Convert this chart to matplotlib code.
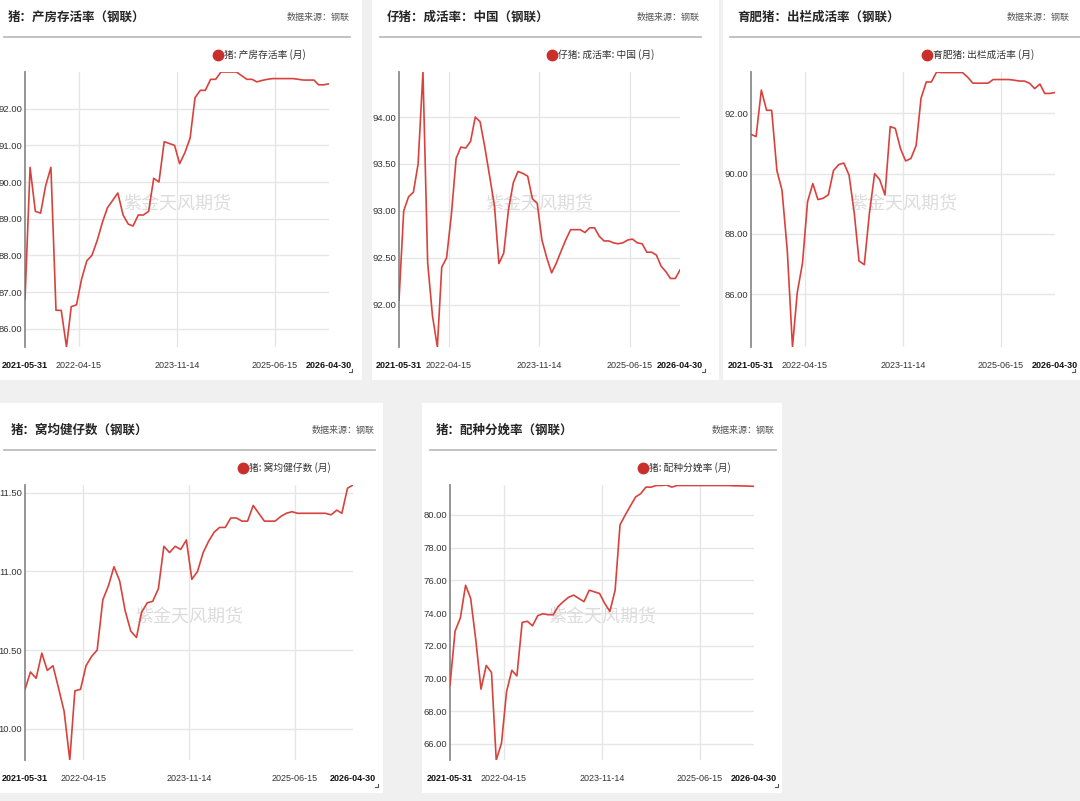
import matplotlib
matplotlib.use("Agg")
import matplotlib.pyplot as plt
from matplotlib.patches import Rectangle
from matplotlib.lines import Line2D
from matplotlib import font_manager
import pandas as pd

W, H = 1080, 801

# Monthly dates, 2021-05-31 .. 2026-04-30
dates = pd.date_range("2021-05-01", periods=60, freq="MS") + pd.offsets.MonthEnd(0)
tick_labels = ["2021-05-31", "2022-04-15", "2023-11-14", "2025-06-15", "2026-04-30"]
tick_dates = pd.to_datetime(tick_labels)

# 猪：产房存活率
farrowing_survival = [
    86.8, 90.4, 89.2, 89.15, 89.9, 90.4, 86.5, 86.5, 85.5, 86.6,
    86.65, 87.35, 87.85, 88.0, 88.4, 88.9, 89.3, 89.5, 89.7, 89.1,
    88.85, 88.8, 89.1, 89.1, 89.2, 90.1, 90.0, 91.1, 91.05, 91.0,
    90.5, 90.8, 91.2, 92.3, 92.5, 92.5, 92.8, 92.8, 93.0, 93.0,
    93.0, 93.0, 92.9, 92.8, 92.8, 92.73, 92.77, 92.8, 92.82, 92.82,
    92.82, 92.82, 92.82, 92.8, 92.78, 92.78, 92.78, 92.65, 92.65, 92.68]

# 仔猪：成活率：中国
piglet_survival = [
    92.05, 93.0, 93.15, 93.2, 93.5, 94.48, 92.45, 91.88, 91.55, 92.4,
    92.5, 92.95, 93.56, 93.68, 93.67, 93.74, 94.0, 93.95, 93.68, 93.37,
    93.05, 92.44, 92.55, 93.01, 93.3, 93.42, 93.4, 93.37, 93.13, 93.08,
    92.69, 92.5, 92.34, 92.44, 92.57, 92.69, 92.8, 92.8, 92.8, 92.77,
    92.82, 92.82, 92.73, 92.68, 92.68, 92.66, 92.65, 92.66, 92.69, 92.7,
    92.66, 92.65, 92.56, 92.56, 92.53, 92.41, 92.35, 92.28, 92.28, 92.37]

# 育肥猪：出栏成活率
finishing_survival = [
    91.3, 91.23, 92.77, 92.1, 92.1, 90.1, 89.45, 87.47, 84.25, 86.05,
    87.03, 89.07, 89.67, 89.14, 89.18, 89.3, 90.1, 90.3, 90.35, 89.95,
    88.68, 87.1, 86.98, 88.68, 90.0, 89.8, 89.29, 91.56, 91.5, 90.82,
    90.42, 90.5, 90.93, 92.5, 93.04, 93.04, 93.37, 93.35, 93.35, 93.35,
    93.35, 93.35, 93.2, 93.0, 93.0, 93.0, 93.0, 93.12, 93.12, 93.12,
    93.12, 93.1, 93.07, 93.07, 93.0, 92.82, 92.97, 92.66, 92.66, 92.69]

# 猪：窝均健仔数
healthy_per_litter = [
    10.25, 10.36, 10.32, 10.48, 10.37, 10.40, 10.26, 10.11, 9.80, 10.24,
    10.25, 10.40, 10.46, 10.50, 10.82, 10.91, 11.03, 10.94, 10.75, 10.62,
    10.58, 10.74, 10.80, 10.81, 10.89, 11.16, 11.12, 11.16, 11.14, 11.20,
    10.95, 11.0, 11.12, 11.19, 11.25, 11.28, 11.28, 11.34, 11.34, 11.32,
    11.32, 11.42, 11.37, 11.32, 11.32, 11.32, 11.35, 11.37, 11.38, 11.37,
    11.37, 11.37, 11.37, 11.37, 11.37, 11.36, 11.39, 11.37, 11.53, 11.55]

# 猪：配种分娩率
farrowing_rate = [
    69.6, 72.9, 73.7, 75.7, 74.9, 72.3, 69.35, 70.8, 70.37, 65.02,
    66.05, 69.2, 70.5, 70.16, 73.43, 73.5, 73.22, 73.84, 73.96, 73.9,
    73.9, 74.4, 74.7, 74.96, 75.1, 74.9, 74.7, 75.4, 75.3, 75.2,
    74.6, 74.1, 75.4, 79.4, 80.0, 80.55, 81.1, 81.3, 81.7, 81.7,
    81.8, 81.8, 81.83, 81.7, 81.8, 81.8, 81.8, 81.8, 81.8, 81.8,
    81.8, 81.8, 81.8, 81.8, 81.8, 81.78, 81.78, 81.77, 81.76, 81.75]

titles = ["猪：产房存活率（钢联）", "仔猪：成活率：中国（钢联）", "育肥猪：出栏成活率（钢联）",
          "猪：窝均健仔数（钢联）", "猪：配种分娩率（钢联）"]
legends = ["猪: 产房存活率 (月)", "仔猪: 成活率: 中国 (月)", "育肥猪: 出栏成活率 (月)",
           "猪: 窝均健仔数 (月)", "猪: 配种分娩率 (月)"]
yticks = [[86, 87, 88, 89, 90, 91, 92],
          [92.0, 92.5, 93.0, 93.5, 94.0],
          [86, 88, 90, 92],
          [10.0, 10.5, 11.0, 11.5],
          [66, 68, 70, 72, 74, 76, 78, 80]]
series = [farrowing_survival, piglet_survival, finishing_survival,
          healthy_per_litter, farrowing_rate]

# Layout in pixels: panel box, axes box, title x, source right x, separator, legend marker x
layout = [
    dict(bg=(0, 0, 362, 380), ax=(25, 72, 329, 347), tx=8, sx=350, sep=(4, 350), lx=218, corner=(352, 372)),
    dict(bg=(372, 0, 719, 380), ax=(399, 72, 680, 347), tx=387, sx=700, sep=(380, 701), lx=552, corner=(705, 372)),
    dict(bg=(723, 0, 1080, 380), ax=(751, 72, 1055, 347), tx=737, sx=1070, sep=(730, 1080), lx=927, corner=(1075, 372)),
    dict(bg=(0, 403, 383, 793), ax=(25, 485, 353, 760), tx=11, sx=375, sep=(4, 375), lx=243, corner=(378, 787)),
    dict(bg=(422, 403, 782, 793), ax=(450, 485, 754, 760), tx=436, sx=775, sep=(430, 776), lx=643, corner=(778, 787)),
]

CJK = ["Noto Sans CJK SC", "DejaVu Sans"]
NUM_FONT = "Liberation Sans"
X_SIZE, Y_SIZE = 6.5, 6.8

LINE_RED = "#d9423c"
DOT_RED = "#c9302c"

fig = plt.figure(figsize=(W / 100, H / 100), dpi=100, facecolor="#f0f0f0")


def fx(x):
    return x / W


def fy(y):
    return 1 - y / H


for cfg, title, leg, vals, yt in zip(layout, titles, legends, series, yticks):
    bx0, by0, bx1, by1 = cfg["bg"]
    fig.add_artist(Rectangle((fx(bx0), fy(by1)), (bx1 - bx0) / W, (by1 - by0) / H,
                             transform=fig.transFigure, facecolor="white",
                             edgecolor="none", zorder=0))
    top = by0 if by0 == 0 else by0 + 10
    # header
    fig.text(fx(cfg["tx"]), fy(top + 17), title, family=CJK, fontsize=9,
             fontweight="bold", color="#262626", va="center", ha="left")
    fig.text(fx(cfg["sx"]), fy(top + 17), "数据来源：钢联", family=CJK, fontsize=6.5,
             color="#555555", va="center", ha="right")
    fig.add_artist(Line2D([fx(cfg["sep"][0]), fx(cfg["sep"][1])], [fy(top + 37), fy(top + 37)],
                          transform=fig.transFigure, color="#bdbdbd", lw=1.3))
    # legend
    fig.add_artist(Line2D([fx(cfg["lx"])], [fy(top + 55)], transform=fig.transFigure,
                          marker="o", markersize=7.5, color=DOT_RED, lw=0))
    fig.text(fx(cfg["lx"] + 6), fy(top + 55), leg, family=CJK, fontsize=7,
             color="#333333", va="center", ha="left")
    # corner mark
    cx, cy = cfg["corner"]
    fig.add_artist(Line2D([fx(cx - 3), fx(cx), fx(cx)], [fy(cy), fy(cy), fy(cy - 3)],
                          transform=fig.transFigure, color="#555555", lw=0.8))

    ax0, ay0, ax1, ay1 = cfg["ax"]
    ax = fig.add_axes([fx(ax0), fy(ay1), (ax1 - ax0) / W, (ay1 - ay0) / H])
    ax.set_facecolor("none")
    ax.plot(dates, vals, color=LINE_RED, lw=1.2, zorder=3)
    ax.set_xlim(tick_dates[0], tick_dates[-1])
    ax.set_ylim(min(vals), max(vals))

    for d in tick_dates[1:-1]:
        ax.axvline(d, color="#e6e6e6", lw=1, zorder=1)
    for v in yt:
        ax.axhline(v, color="#e6e6e6", lw=1, zorder=1)

    for s in ["top", "right", "bottom"]:
        ax.spines[s].set_visible(False)
    ax.spines["left"].set_color("#8c8c8c")
    ax.spines["left"].set_linewidth(1.3)

    ax.set_xticks(tick_dates)
    ax.set_xticklabels(tick_labels)
    ax.set_yticks(yt)
    ax.set_yticklabels([f"{v:.2f}" for v in yt])
    ax.tick_params(axis="both", length=0, labelcolor="#333333")
    ax.tick_params(axis="x", pad=10, labelsize=X_SIZE)
    ax.tick_params(axis="y", pad=2, labelsize=Y_SIZE)
    for lab in ax.get_xticklabels() + ax.get_yticklabels():
        lab.set_fontfamily(NUM_FONT)
    xl = ax.get_xticklabels()
    for lab in (xl[0], xl[-1]):
        lab.set_fontweight("bold")
        lab.set_color("#111111")

    # watermark
    ax.text(0.5, 0.52, "紫金天风期货", transform=ax.transAxes, family=CJK, fontsize=13,
            color="#dcdcdc", ha="center", va="center", zorder=2)

fig.savefig("out.png", dpi=100, facecolor=fig.get_facecolor())
